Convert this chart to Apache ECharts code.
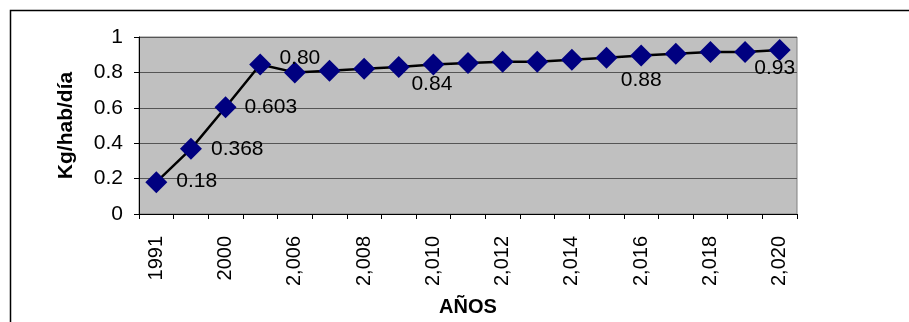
<!DOCTYPE html>
<html>
<head>
<meta charset="utf-8">
<script src="https://cdn.jsdelivr.net/npm/echarts@6/dist/echarts.min.js"></script>
<style>
html,body{margin:0;padding:0;background:#fff;}
#c{width:909px;height:322px;}
</style>
</head>
<body>
<div id="c"></div>
<script>
// Data
var categories = ['1991','1995','2000','2005','2,006','2,007','2,008','2,009','2,010','2,011','2,012','2,013','2,014','2,015','2,016','2,017','2,018','2,019','2,020'];
var values = [0.18,0.368,0.603,0.845,0.80,0.81,0.82,0.83,0.845,0.853,0.86,0.86,0.872,0.883,0.895,0.905,0.915,0.915,0.927];
var labelTexts = ['0.18','0.368','0.603','','0.80','','','','0.84','','','','','','0.88','','','','0.93'];
var yTicks = ['0','0.2','0.4','0.6','0.8','1'];
var yAxisTitle = 'Kg/hab/día';
var xAxisTitle = 'AÑOS';

var FONT = '"Liberation Sans", Arial, sans-serif';
// label placement (style, not data)
var labelPlacement = {
  0: {position: 'right', distance: 9, offset: [0, -1]},
  1: {position: 'right', distance: 9, offset: [0, 0]},
  2: {position: 'right', distance: 8, offset: [0, 0]},
  4: {position: 'inside', offset: [5, -14]},
  8: {position: 'inside', offset: [-1.5, 20]},
  14: {position: 'inside', offset: [0, 25]},
  18: {position: 'inside', offset: [-5, 18.5]}
};

var seriesData = values.map(function (v, i) {
  var item = {value: v};
  if (labelTexts[i]) {
    var p = labelPlacement[i] || {position: 'right'};
    item.label = Object.assign({show: true, formatter: labelTexts[i]}, p);
  }
  return item;
});

var chart = echarts.init(document.getElementById('c'), null, {renderer: 'canvas'});
chart.setOption({
  animation: false,
  backgroundColor: '#ffffff',
  graphic: [{
    type: 'rect',
    shape: {x: 10.5, y: 10.5, width: 1000, height: 400},
    style: {fill: null, stroke: '#000', lineWidth: 1.5},
    z: -1
  }],
  grid: {
    left: 139, top: 37, right: 112, bottom: 100,
    show: true, backgroundColor: '#C0C0C0', borderColor: '#808080', borderWidth: 1
  },
  xAxis: {
    type: 'category',
    data: categories,
    boundaryGap: true,
    name: xAxisTitle,
    nameLocation: 'middle',
    nameGap: 83,
    nameTextStyle: {fontFamily: FONT, fontSize: 20, fontWeight: 'bold', color: '#000'},
    axisLine: {lineStyle: {color: '#000', width: 1}},
    axisTick: {show: true, interval: 0, length: 5, lineStyle: {color: '#000'}},
    axisLabel: {interval: 1, rotate: 90, margin: 22, fontFamily: FONT, fontSize: 20, color: '#000'},
    splitLine: {show: false}
  },
  yAxis: {
    type: 'value',
    min: 0, max: 1, interval: 0.2,
    name: yAxisTitle,
    nameLocation: 'middle',
    nameGap: 62,
    nameRotate: 90,
    nameTextStyle: {fontFamily: FONT, fontSize: 21, fontWeight: 'bold', color: '#000'},
    axisLine: {show: true, lineStyle: {color: '#000', width: 1}},
    axisTick: {show: true, length: 5, lineStyle: {color: '#000'}},
    axisLabel: {margin: 16, fontFamily: FONT, fontSize: 21, color: '#000',
      formatter: function (v) { return yTicks[Math.round(v / 0.2)]; }},
    splitLine: {show: true, lineStyle: {color: '#555', width: 1}}
  },
  series: [{
    type: 'line',
    data: seriesData,
    symbol: 'diamond',
    symbolSize: 22,
    lineStyle: {color: '#000', width: 2.5},
    itemStyle: {color: '#000080', borderWidth: 0},
    label: {show: false, fontFamily: FONT, fontSize: 21, color: '#000'},
    emphasis: {disabled: true}
  }]
});
</script>
</body>
</html>
